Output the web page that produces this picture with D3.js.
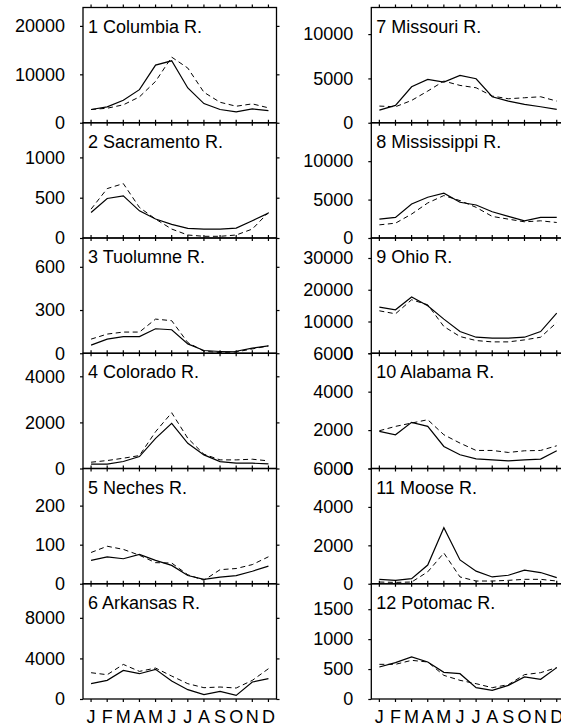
<!DOCTYPE html>
<html>
<head>
<meta charset="utf-8">
<script src="https://cdn.jsdelivr.net/npm/d3@7"></script>
<style>
  body { margin: 0; background: #fff; }
  svg { display: block; }
  text { font-family: "Liberation Sans", Arial, sans-serif; }
</style>
</head>
<body>
<svg id="drawing_region"></svg>
<script>
const months = ["J","F","M","A","M","J","J","A","S","O","N","D"];

const rivers = ["1 Columbia R.", "2 Sacramento R.", "3 Tuolumne R.", "4 Colorado R.", "5 Neches R.", "6 Arkansas R.",
                "7 Missouri R.", "8 Mississippi R.", "9 Ohio R.", "10 Alabama R.", "11 Moose R.", "12 Potomac R."];

// solid line
const solid = [
  [2730, 3280, 4640, 6840, 11900, 12790, 7190, 3960, 2730, 2260, 2870, 2520],
  [317, 490, 523, 337, 235, 169, 119, 111, 111, 123, 214, 309],
  [56, 98, 116, 116, 170, 163, 65, 19, 12, 14, 35, 51],
  [187, 187, 302, 518, 1310, 1957, 1094, 590, 302, 230, 230, 201],
  [60, 69, 64, 75, 60, 47, 21, 11, 17, 21, 32, 45],
  [1509, 1837, 2821, 2493, 2919, 1771, 918, 426, 754, 361, 1673, 2001],
  [1429, 1955, 4061, 4888, 4587, 5339, 4963, 2933, 2444, 2068, 1805, 1504],
  [2456, 2675, 4430, 5307, 5833, 4649, 4298, 3421, 2807, 2237, 2675, 2675],
  [14530, 13690, 17690, 14950, 10740, 6840, 5050, 4740, 4740, 5050, 6840, 12640],
  [1931, 1757, 2401, 2192, 1148, 713, 505, 452, 400, 452, 487, 922],
  [230, 177, 266, 974, 2921, 1239, 655, 354, 443, 708, 584, 319],
  [535, 607, 702, 618, 446, 423, 189, 145, 228, 368, 329, 524]
];

// dashed line
const dashed = [
  [2730, 3000, 3700, 5340, 8540, 13550, 11290, 6290, 4230, 3410, 3900, 3080],
  [358, 613, 675, 379, 235, 111, 37, 21, 21, 37, 111, 317],
  [98, 133, 147, 147, 237, 226, 74, 14, 5, 9, 30, 51],
  [273, 345, 446, 561, 1597, 2418, 1310, 619, 374, 374, 403, 331],
  [80, 96, 88, 73, 54, 53, 23, 9, 36, 39, 49, 69],
  [2591, 2394, 3411, 2722, 3050, 2263, 1509, 1115, 1181, 1082, 1837, 2985],
  [1880, 1805, 2519, 3572, 4700, 4211, 3948, 3008, 2707, 2820, 2933, 2444],
  [1711, 1930, 3114, 4561, 5526, 4868, 3991, 2807, 2456, 2105, 2237, 2018],
  [13370, 12420, 16850, 15270, 8420, 5270, 4000, 3580, 3580, 4210, 5050, 9690],
  [1966, 2192, 2366, 2540, 1757, 1322, 940, 940, 835, 922, 940, 1183],
  [89, 71, 89, 620, 1600, 354, 142, 142, 177, 230, 230, 142],
  [579, 579, 646, 618, 395, 312, 256, 189, 240, 407, 440, 524]
];

const yMax = [23800, 1430, 800, 5000, 295, 11360, 13000, 15000, 36300, 6000, 6000, 1925];

const yTicks = [
  [0, 10000, 20000], [0, 500, 1000], [0, 300, 600], [0, 2000, 4000], [0, 100, 200], [0, 4000, 8000],
  [0, 5000, 10000], [0, 5000, 10000], [0, 10000, 20000, 30000], [0, 2000, 4000, 6000], [0, 2000, 4000, 6000], [0, 500, 1000, 1500]
];

const svg = d3.select('#drawing_region')
    .attr('width', 561)
    .attr('height', 728);

const colLeft = [83, 371.3];
const panelW = 193.5;
const top0 = 7.5;
const panelH = 115.25;

const xscale = d3.scaleBand()
    .domain(d3.range(12))
    .range([0, panelW]);
const xc = j => xscale(j) + xscale.bandwidth() / 2;

rivers.forEach((name, i) => {
    const col = Math.floor(i / 6), row = i % 6;
    const g = svg.append('g')
        .attr('transform', `translate(${colLeft[col]}, ${top0 + row * panelH})`);

    const yscale = d3.scaleLinear()
        .domain([0, yMax[i]])
        .range([panelH, 0]);

    const line = d3.line()
        .x((d, j) => xc(j))
        .y(d => yscale(d));

    g.append('path')
        .attr('d', line(dashed[i]))
        .attr('fill', 'none')
        .attr('stroke', 'black')
        .attr('stroke-width', 1)
        .attr('stroke-dasharray', '5,3.5');

    g.append('path')
        .attr('d', line(solid[i]))
        .attr('fill', 'none')
        .attr('stroke', 'black')
        .attr('stroke-width', 1.2);

    // axes
    const yaxis = g.append('g')
        .call(d3.axisLeft(yscale).tickValues(yTicks[i]).tickSize(3).tickPadding(15).tickFormat(d3.format('d')));
    yaxis.selectAll('text').attr('font-size', 18).attr('fill', 'black').style('font-family', '"Liberation Sans", Arial, sans-serif');

    g.append('g')
        .attr('transform', `translate(${panelW}, 0)`)
        .call(d3.axisRight(yscale).tickValues(yTicks[i]).tickSize(3).tickFormat(''));

    g.append('g')
        .call(d3.axisTop(xscale).tickSize(3).tickFormat(''));

    const xaxis = g.append('g')
        .attr('transform', `translate(0, ${panelH})`)
        .call(d3.axisBottom(xscale).tickSize(3).tickPadding(8)
            .tickFormat(j => row === 5 ? months[j] : ''));
    xaxis.selectAll('text').attr('font-size', 18).attr('fill', 'black').style('font-family', '"Liberation Sans", Arial, sans-serif');

    g.selectAll('.domain').remove();
    g.selectAll('.tick line').attr('stroke', 'black').attr('stroke-width', 1.2);

    g.append('rect')
        .attr('width', panelW)
        .attr('height', panelH)
        .attr('fill', 'none')
        .attr('stroke', 'black')
        .attr('stroke-width', 1.3);

    g.append('text')
        .attr('x', 5)
        .attr('y', 25)
        .attr('font-size', 18)
        .text(name);
});
</script>
</body>
</html>
